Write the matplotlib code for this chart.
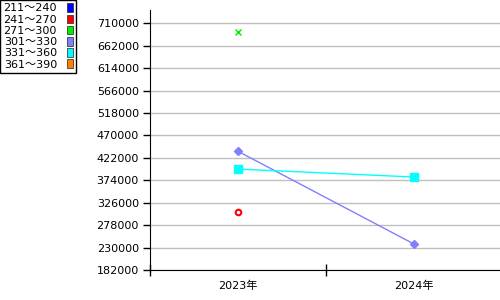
import numpy as np
import matplotlib
matplotlib.use("Agg")
import matplotlib.pyplot as plt
from matplotlib.patches import Patch

plt.rcParams["font.family"] = ["DejaVu Sans", "Noto Sans CJK JP"]

years = ["2023年", "2024年"]
ranges = ["211～240", "241～270", "271～300", "301～330", "331～360", "361～390"]
colors = ["#0000ff", "#ff0000", "#00ee00", "#8080ff", "#00ffff", "#ff8000"]

s211 = [np.nan, np.nan]
s241 = [306800, np.nan]
s271 = [691000, np.nan]
s301 = [436000, 237600]
s331 = [398000, 381000]
s361 = [np.nan, np.nan]

yticks = [182000, 230000, 278000, 326000, 374000, 422000, 470000,
          518000, 566000, 614000, 662000, 710000]

fig = plt.figure(figsize=(5, 3), dpi=100)
ax = fig.add_axes([0.3, 0.1, 0.704, 0.8667])

x = np.arange(len(years))
ax.plot(x, s241, linestyle="none", marker="o", markersize=4,
        markerfacecolor="white", markeredgecolor=colors[1], markeredgewidth=1.5)
ax.plot(x, s271, linestyle="none", marker="x", markersize=5,
        color=colors[2], markeredgewidth=1)
ax.plot(x, s301, color=colors[3], linewidth=1, marker="D", markersize=4)
ax.plot(x, s331, color=colors[4], linewidth=1, marker="s", markersize=6)

ax.set_xlim(-0.5, 1.5)
ax.set_ylim(182000, 738500)
ax.set_yticks(yticks)
ax.set_yticklabels([str(v) for v in yticks], fontsize=8)
ax.yaxis.grid(True, color="#c0c0c0", linewidth=1)
ax.set_axisbelow(True)
ax.tick_params(axis="y", direction="out", length=5, width=1, pad=3)

ax.set_xticks(x)
ax.set_xticklabels(years, fontsize=8)
ax.set_xticks([-0.5, 0.5], minor=True)
ax.tick_params(axis="x", which="major", length=0, pad=8)
ax.tick_params(axis="x", which="minor", direction="inout", length=8, width=1)

for side in ["top", "right"]:
    ax.spines[side].set_visible(False)

handles = [Patch(facecolor=c, edgecolor="#222222", linewidth=0.5) for c in colors]
leg = fig.legend(handles, ranges, loc="upper left", bbox_to_anchor=(0.0, 1.0),
                 markerfirst=False, fontsize=8, handlelength=0.55, handleheight=0.8,
                 handletextpad=0.9, labelspacing=0.1, borderpad=0.3,
                 borderaxespad=0, fancybox=False, framealpha=1, edgecolor="black")
leg.get_frame().set_linewidth(1)

fig.savefig("out.png", dpi=100)
